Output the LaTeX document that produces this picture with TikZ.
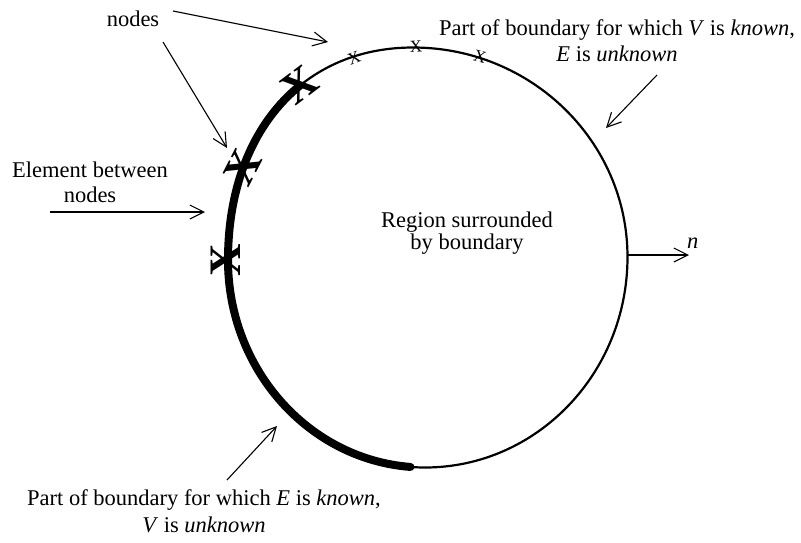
\documentclass[tikz,border=0pt]{standalone}
\usepackage{fontspec}
\setmainfont{Liberation Serif}
\usetikzlibrary{arrows.meta}
\begin{document}
\begin{tikzpicture}[x=1pt,y=-1pt,
  lbl/.style={font=\fontsize{22.5}{27}\selectfont, inner sep=0pt, anchor=base},
  ptr/.style={line width=1.1pt, -{Straight Barb[length=14pt,width=14pt]}},
  bigx/.style={font=\fontsize{45}{45}\selectfont\bfseries, inner sep=0pt},
  smallx/.style={font=\fontsize{17}{17}\selectfont, inner sep=0pt},
  boundary/.style={line width=2.2pt},
  known/.style={line width=8pt, line cap=round}]
\useasboundingbox (0,0) rectangle (801,542);
\fill[white] (0,0) rectangle (801,542);

% boundary
\draw[boundary] (627.5,257) .. controls (627.5,141.4) and (531.4,47.5) .. (413,47.5)
  .. controls (302,47.5) and (228,132.5) .. (228,260)
  .. controls (228,374.5) and (316.3,467.5) .. (425,467.5)
  .. controls (536.8,467.5) and (627.5,373.2) .. cycle;
\draw[known] (299.93,85.58) .. controls (254.64,122.3) and (228,183.5) .. (228,260)
  .. controls (228,369.35) and (308.54,459.09) .. (410.46,466.94);

% nodes on boundary
\node[bigx, rotate=37] (X1) at (300,85) {X};
\node[bigx, rotate=63] (X2) at (243,167) {X};
\node[bigx, rotate=90] (X3) at (226,260) {X};
\node[smallx, rotate=21] (x1) at (354,58) {X};
\node[smallx, rotate=3] (x2) at (416,47) {X};
\node[smallx, rotate=-15] (x3) at (480,57) {X};

% labels
\node[lbl] (nodesL) at (133,26) {nodes};
\node[lbl] (elem1) at (90,177) {Element between};
\node[lbl] (elem2) at (90,202) {nodes};
\node[lbl] (reg1) at (467,227) {Region surrounded};
\node[lbl] (reg2) at (467,249.5) {by boundary};
\node[lbl] (vk1) at (617,35) {Part of boundary for which \textit{V} is \textit{known},};
\node[lbl] (vk2) at (617,61) {\textit{E} is \textit{unknown}};
\node[lbl] (ek1) at (204,505) {Part of boundary for which \textit{E} is \textit{known},};
\node[lbl] (ek2) at (204,532) {\textit{V} is \textit{unknown}};
\node[lbl, anchor=base west] (nL) at (687,248) {\textit{n}};

% connector ends
\coordinate (a1s) at (173,11);  \coordinate (a1e) at (328,42);
\coordinate (a2s) at (163,42);  \coordinate (a2e) at (227,148);
\coordinate (a3s) at (50,212);  \coordinate (a3e) at (205,212);
\coordinate (a4s) at (657,75);  \coordinate (a4e) at (606,128);
\coordinate (a5s) at (227,480); \coordinate (a5e) at (277,426);
\coordinate (a6s) at (627.5,255); \coordinate (a6e) at (689,255);

\draw[ptr] (a1s) -- (a1e);
\draw[ptr] (a2s) -- (a2e);
\draw[ptr] (a3s) -- (a3e);
\draw[ptr] (a4s) -- (a4e);
\draw[ptr] (a5s) -- (a5e);
\draw[ptr] (a6s) -- (a6e);
\end{tikzpicture}
\end{document}
